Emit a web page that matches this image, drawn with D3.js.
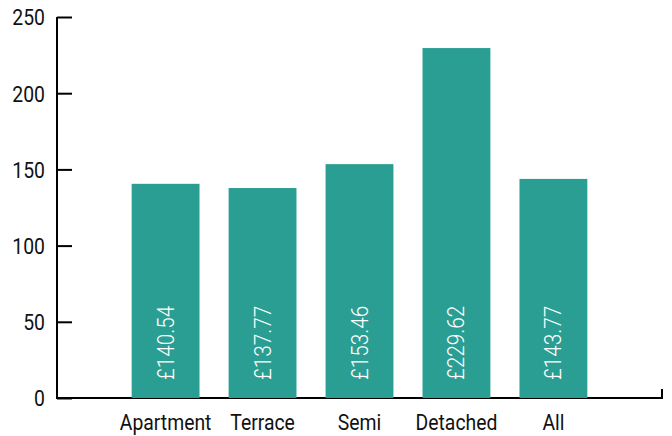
<!DOCTYPE html>
<html>
<head>
<meta charset="utf-8">
<script src="https://cdn.jsdelivr.net/npm/d3@7"></script>
<style>
body { margin: 0; background: #fff; }
text { font-family: "Roboto", sans-serif; }
</style>
</head>
<body>
<svg width="672" height="436"></svg>
<script>
// dades
var categories = ["Apartment", "Terrace", "Semi", "Detached", "All"];
var values = [140.54, 137.77, 153.46, 229.62, 143.77];
var yTicks = [0, 50, 100, 150, 200, 250];

var svg = d3.select("svg"),
    x0 = 57, x1 = 662,
    yTop = 17, yBot = 398,
    narrow = 0.88;

var xScale = d3.scaleBand().domain(categories).range([x0, x1])
               .paddingInner(0.3).paddingOuter(0.77),
    yScale = d3.scaleLinear().domain([0, 250]).range([yBot, yTop]);

var data = categories.map(function(c, i) { return { cat: c, value: values[i] }; });

// eix x (darrera les barres)
svg.append("path")
   .attr("d", "M" + x0 + "," + yBot + "H" + x1 + "V" + (yBot - 9))
   .attr("fill", "none")
   .attr("stroke", "#000")
   .attr("stroke-width", 2);

// barres
svg.selectAll(".bar")
   .data(data)
   .enter().append("rect")
   .attr("class", "bar")
   .attr("x", function(d) { return xScale(d.cat); })
   .attr("width", xScale.bandwidth())
   .attr("y", function(d) { return yScale(d.value); })
   .attr("height", function(d) { return yBot - yScale(d.value); })
   .attr("fill", "#2a9e92");

// etiquetes dins les barres
svg.selectAll(".lbl")
   .data(data)
   .enter().append("text")
   .attr("class", "lbl")
   .attr("transform", function(d) {
       return "translate(" + (xScale(d.cat) + xScale.bandwidth() / 2 + 8) + "," + (yBot - 18) + ") rotate(-90) scale(0.9,1)";
   })
   .attr("fill", "#fff")
   .attr("font-size", 23)
   .attr("font-weight", 300)
   .text(function(d) { return "£" + d.value.toFixed(2); });

// eix y
var yAxis = svg.append("g")
   .attr("transform", "translate(" + x0 + ",0)")
   .call(d3.axisRight(yScale).tickValues(yTicks).tickSize(15).tickFormat(d3.format("d")));
yAxis.select(".domain").attr("stroke-width", 2).attr("d", "M0," + yTop + "V" + (yBot + 1));
yAxis.selectAll(".tick line").attr("stroke-width", 2);
yAxis.selectAll(".tick text")
     .attr("x", -12 / narrow)
     .attr("dy", "0.36em")
     .attr("transform", "scale(" + narrow + ",1)")
     .attr("text-anchor", "end")
     .attr("font-size", 22)
     .attr("fill", "#111")
     .attr("font-family", null);

// etiquetes categories
svg.selectAll(".cat")
   .data(categories)
   .enter().append("text")
   .attr("class", "cat")
   .attr("transform", function(d) {
       return "translate(" + (xScale(d) + xScale.bandwidth() / 2) + ",430) scale(" + narrow + ",1)";
   })
   .attr("text-anchor", "middle")
   .attr("font-size", 22)
   .attr("fill", "#111")
   .text(function(d) { return d; });
</script>
</body>
</html>
